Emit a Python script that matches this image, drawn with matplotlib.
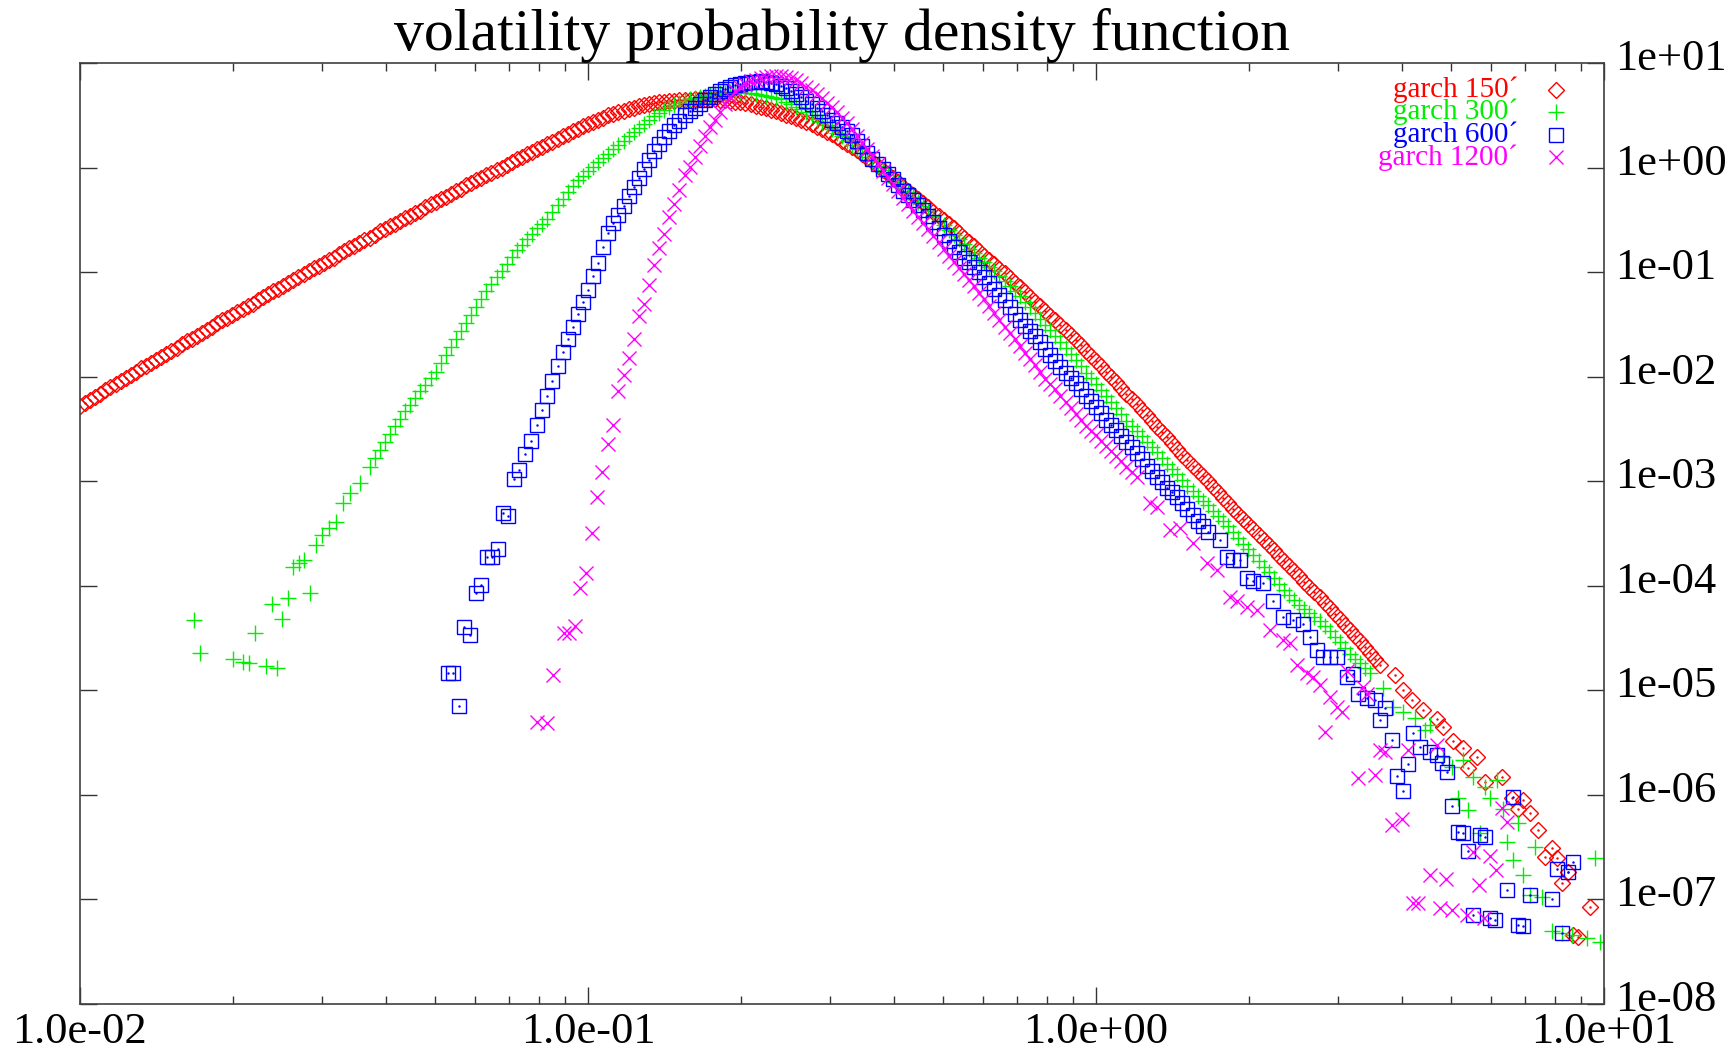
import numpy as np
import matplotlib.pyplot as plt
import matplotlib.transforms as mtransforms
from matplotlib.ticker import LogLocator, NullFormatter

plt.rcParams['font.family'] = ['Liberation Serif', 'DejaVu Serif']

title = "volatility probability density function"
series_labels = ["garch 150\u00b4", "garch 300\u00b4", "garch 600\u00b4", "garch 1200\u00b4"]
x_tick_values = [1e-2, 1e-1, 1e0, 1e1]
x_tick_labels = ["1.0e-02", "1.0e-01", "1.0e+00", "1.0e+01"]
y_tick_values = [1e1, 1e0, 1e-1, 1e-2, 1e-3, 1e-4, 1e-5, 1e-6, 1e-7, 1e-8]
y_tick_labels = ["1e+01", "1e+00", "1e-01", "1e-02", "1e-03", "1e-04",
                 "1e-05", "1e-06", "1e-07", "1e-08"]

# points as (log10 x, log10 y)
red_points = [
    (-2.00, -2.28), (-1.99, -2.25), (-1.98, -2.22), (-1.97, -2.19), (-1.96, -2.16),
    (-1.95, -2.13), (-1.94, -2.10), (-1.93, -2.07), (-1.92, -2.04), (-1.91, -2.01),
    (-1.90, -1.98), (-1.89, -1.95), (-1.88, -1.92), (-1.87, -1.90), (-1.86, -1.87),
    (-1.85, -1.84), (-1.84, -1.81), (-1.83, -1.78), (-1.82, -1.75), (-1.81, -1.72),
    (-1.80, -1.69), (-1.79, -1.66), (-1.78, -1.64), (-1.77, -1.61), (-1.76, -1.58),
    (-1.75, -1.55), (-1.74, -1.52), (-1.73, -1.49), (-1.72, -1.46), (-1.71, -1.44),
    (-1.70, -1.41), (-1.69, -1.38), (-1.68, -1.35), (-1.67, -1.32), (-1.66, -1.30),
    (-1.65, -1.27), (-1.64, -1.24), (-1.63, -1.21), (-1.62, -1.18), (-1.61, -1.16),
    (-1.60, -1.13), (-1.59, -1.10), (-1.58, -1.07), (-1.57, -1.05), (-1.56, -1.02),
    (-1.55, -0.99), (-1.54, -0.96), (-1.53, -0.94), (-1.52, -0.91), (-1.51, -0.88),
    (-1.50, -0.86), (-1.49, -0.83), (-1.48, -0.80), (-1.47, -0.77), (-1.46, -0.75),
    (-1.45, -0.72), (-1.44, -0.69), (-1.43, -0.67), (-1.42, -0.64), (-1.41, -0.61),
    (-1.40, -0.59), (-1.39, -0.56), (-1.38, -0.54), (-1.37, -0.51), (-1.36, -0.48),
    (-1.35, -0.46), (-1.34, -0.43), (-1.33, -0.41), (-1.32, -0.38), (-1.31, -0.35),
    (-1.30, -0.33), (-1.29, -0.30), (-1.28, -0.28), (-1.27, -0.25), (-1.26, -0.22),
    (-1.25, -0.20), (-1.24, -0.17), (-1.23, -0.15), (-1.22, -0.12), (-1.21, -0.10),
    (-1.20, -0.07), (-1.19, -0.05), (-1.18, -0.02), (-1.17, 0.00), (-1.16, 0.03),
    (-1.15, 0.05), (-1.14, 0.08), (-1.13, 0.10), (-1.12, 0.13), (-1.11, 0.15),
    (-1.10, 0.18), (-1.09, 0.20), (-1.08, 0.23), (-1.07, 0.25), (-1.06, 0.27),
    (-1.05, 0.30), (-1.04, 0.32), (-1.03, 0.35), (-1.02, 0.37), (-1.01, 0.40),
    (-1.00, 0.42), (-0.99, 0.44), (-0.98, 0.46), (-0.97, 0.48), (-0.96, 0.50),
    (-0.95, 0.515), (-0.94, 0.53), (-0.93, 0.545), (-0.92, 0.56), (-0.91, 0.575),
    (-0.90, 0.59), (-0.89, 0.60), (-0.88, 0.61), (-0.87, 0.62), (-0.86, 0.625),
    (-0.85, 0.633), (-0.84, 0.64), (-0.83, 0.643), (-0.82, 0.645), (-0.81, 0.648),
    (-0.80, 0.65), (-0.79, 0.653), (-0.78, 0.655), (-0.77, 0.655), (-0.76, 0.655),
    (-0.75, 0.653), (-0.74, 0.65), (-0.73, 0.645), (-0.72, 0.64), (-0.71, 0.633),
    (-0.70, 0.625), (-0.69, 0.615), (-0.68, 0.605), (-0.67, 0.593), (-0.66, 0.58),
    (-0.65, 0.568), (-0.64, 0.555), (-0.63, 0.54), (-0.62, 0.525), (-0.61, 0.508),
    (-0.60, 0.49), (-0.59, 0.473), (-0.58, 0.455), (-0.57, 0.435), (-0.56, 0.415),
    (-0.55, 0.393), (-0.54, 0.37), (-0.53, 0.345), (-0.52, 0.32), (-0.51, 0.29),
    (-0.50, 0.26), (-0.49, 0.23), (-0.48, 0.20), (-0.47, 0.165), (-0.46, 0.13),
    (-0.45, 0.095), (-0.44, 0.06), (-0.43, 0.02), (-0.42, -0.02), (-0.41, -0.06),
    (-0.40, -0.10), (-0.39, -0.14), (-0.38, -0.18), (-0.37, -0.22), (-0.36, -0.26),
    (-0.35, -0.30), (-0.34, -0.34), (-0.33, -0.38), (-0.32, -0.42), (-0.31, -0.46),
    (-0.30, -0.50), (-0.29, -0.54), (-0.28, -0.58), (-0.27, -0.625), (-0.26, -0.67),
    (-0.25, -0.71), (-0.24, -0.75), (-0.23, -0.795), (-0.22, -0.84), (-0.21, -0.88),
    (-0.20, -0.92), (-0.19, -0.965), (-0.18, -1.01), (-0.17, -1.055), (-0.16, -1.10),
    (-0.15, -1.145), (-0.14, -1.19), (-0.13, -1.235), (-0.12, -1.28), (-0.11, -1.325),
    (-0.10, -1.37), (-0.09, -1.415), (-0.08, -1.46), (-0.07, -1.505), (-0.06, -1.55),
    (-0.05, -1.60), (-0.04, -1.65), (-0.03, -1.70), (-0.02, -1.75), (-0.01, -1.80),
    (0.00, -1.85), (0.01, -1.90), (0.02, -1.95), (0.03, -2.00), (0.04, -2.05),
    (0.05, -2.105), (0.06, -2.16), (0.07, -2.21), (0.08, -2.26), (0.09, -2.315),
    (0.10, -2.37), (0.11, -2.425), (0.12, -2.48), (0.13, -2.53), (0.14, -2.58),
    (0.15, -2.635), (0.16, -2.69), (0.17, -2.745), (0.18, -2.80), (0.19, -2.85),
    (0.20, -2.90), (0.21, -2.95), (0.22, -3.00), (0.23, -3.05), (0.24, -3.10),
    (0.25, -3.155), (0.26, -3.21), (0.27, -3.26), (0.28, -3.31), (0.29, -3.36),
    (0.30, -3.41), (0.31, -3.46), (0.32, -3.51), (0.33, -3.56), (0.34, -3.61),
    (0.35, -3.66), (0.36, -3.71), (0.37, -3.76), (0.38, -3.81), (0.39, -3.86),
    (0.40, -3.91), (0.41, -3.96), (0.42, -4.01), (0.43, -4.06), (0.44, -4.11),
    (0.45, -4.16), (0.46, -4.21), (0.47, -4.265), (0.48, -4.32), (0.49, -4.37),
    (0.50, -4.42), (0.51, -4.475), (0.52, -4.53), (0.53, -4.585), (0.54, -4.64),
    (0.55, -4.70), (0.56, -4.76),
    (0.589, -4.85), (0.604, -5.00), (0.622, -5.09), (0.644, -5.19), (0.671, -5.27),
    (0.683, -5.35), (0.703, -5.48), (0.722, -5.55), (0.750, -5.64), (0.732, -5.74),
    (0.766, -5.88), (0.799, -5.83), (0.819, -6.03), (0.841, -6.05), (0.831, -6.13),
    (0.854, -6.17), (0.870, -6.34), (0.898, -6.51), (0.884, -6.59), (0.907, -6.60),
    (0.917, -6.84), (0.929, -6.74), (0.972, -7.07), (0.939, -7.34), (0.949, -7.36),
]

green_points = [
    (-1.776, -4.33), (-1.764, -4.64), (-1.699, -4.70), (-1.679, -4.73), (-1.667, -4.74),
    (-1.634, -4.77), (-1.612, -4.79), (-1.656, -4.45), (-1.622, -4.17), (-1.602, -4.32),
    (-1.591, -4.12), (-1.547, -4.07), (-1.581, -3.82), (-1.569, -3.78), (-1.559, -3.75),
    (-1.535, -3.61), (-1.524, -3.51), (-1.510, -3.45), (-1.496, -3.39), (-1.482, -3.21),
    (-1.469, -3.11), (-1.449, -3.02), (-1.429, -2.86),
    (-1.42, -2.78), (-1.41, -2.70), (-1.40, -2.62), (-1.39, -2.545), (-1.38, -2.47),
    (-1.37, -2.40), (-1.36, -2.33), (-1.35, -2.265), (-1.34, -2.20), (-1.33, -2.14),
    (-1.32, -2.08), (-1.31, -2.015), (-1.30, -1.95), (-1.29, -1.87), (-1.28, -1.79),
    (-1.27, -1.715), (-1.26, -1.64), (-1.25, -1.565), (-1.24, -1.49), (-1.23, -1.41),
    (-1.22, -1.33), (-1.21, -1.255), (-1.20, -1.18), (-1.19, -1.115), (-1.18, -1.05),
    (-1.17, -0.985), (-1.16, -0.92), (-1.15, -0.855), (-1.14, -0.79), (-1.13, -0.735),
    (-1.12, -0.68), (-1.11, -0.63), (-1.10, -0.58), (-1.09, -0.535), (-1.08, -0.49),
    (-1.07, -0.425), (-1.06, -0.36), (-1.05, -0.295), (-1.04, -0.23), (-1.03, -0.175),
    (-1.02, -0.12), (-1.01, -0.075), (-1.00, -0.03), (-0.99, 0.01), (-0.98, 0.05),
    (-0.97, 0.09), (-0.96, 0.13), (-0.95, 0.175), (-0.94, 0.22), (-0.93, 0.26),
    (-0.92, 0.30), (-0.91, 0.34), (-0.90, 0.38), (-0.89, 0.42), (-0.88, 0.46),
    (-0.87, 0.49), (-0.86, 0.52), (-0.85, 0.55), (-0.84, 0.58), (-0.83, 0.60),
    (-0.82, 0.62), (-0.81, 0.638), (-0.80, 0.655), (-0.79, 0.668), (-0.78, 0.68),
    (-0.77, 0.69), (-0.76, 0.70), (-0.75, 0.708), (-0.74, 0.715), (-0.73, 0.718),
    (-0.72, 0.72), (-0.71, 0.72), (-0.70, 0.72), (-0.69, 0.718), (-0.68, 0.715),
    (-0.67, 0.708), (-0.66, 0.70), (-0.65, 0.69), (-0.64, 0.68), (-0.63, 0.668),
    (-0.62, 0.655), (-0.61, 0.633), (-0.60, 0.61), (-0.59, 0.585), (-0.58, 0.56),
    (-0.57, 0.53), (-0.56, 0.50), (-0.55, 0.47), (-0.54, 0.44), (-0.53, 0.405),
    (-0.52, 0.37), (-0.51, 0.335), (-0.50, 0.30), (-0.49, 0.26), (-0.48, 0.22),
    (-0.47, 0.18), (-0.46, 0.14), (-0.45, 0.10), (-0.44, 0.06), (-0.43, 0.02),
    (-0.42, -0.02), (-0.41, -0.065), (-0.40, -0.11), (-0.39, -0.15), (-0.38, -0.19),
    (-0.37, -0.235), (-0.36, -0.28), (-0.35, -0.325), (-0.34, -0.37), (-0.33, -0.415),
    (-0.32, -0.46), (-0.31, -0.505), (-0.30, -0.55), (-0.29, -0.595), (-0.28, -0.64),
    (-0.27, -0.685), (-0.26, -0.73), (-0.25, -0.775), (-0.24, -0.82), (-0.23, -0.86),
    (-0.22, -0.90), (-0.21, -0.945), (-0.20, -0.99), (-0.19, -1.035), (-0.18, -1.08),
    (-0.17, -1.13), (-0.16, -1.18), (-0.15, -1.23), (-0.14, -1.28), (-0.13, -1.335),
    (-0.12, -1.39), (-0.11, -1.445), (-0.10, -1.50), (-0.09, -1.555), (-0.08, -1.61),
    (-0.07, -1.665), (-0.06, -1.72), (-0.05, -1.78), (-0.04, -1.84), (-0.03, -1.90),
    (-0.02, -1.96), (-0.01, -2.015), (0.00, -2.07), (0.01, -2.125), (0.02, -2.18),
    (0.03, -2.24), (0.04, -2.30), (0.05, -2.36), (0.06, -2.42), (0.07, -2.47),
    (0.08, -2.52), (0.09, -2.57), (0.10, -2.62), (0.11, -2.67), (0.12, -2.72),
    (0.13, -2.775), (0.14, -2.83), (0.15, -2.88), (0.16, -2.93), (0.17, -2.985),
    (0.18, -3.04), (0.19, -3.09), (0.20, -3.14), (0.21, -3.185), (0.22, -3.23),
    (0.23, -3.28), (0.24, -3.33), (0.25, -3.38), (0.26, -3.43), (0.27, -3.485),
    (0.28, -3.54), (0.29, -3.595), (0.30, -3.65), (0.31, -3.705), (0.32, -3.76),
    (0.33, -3.815), (0.34, -3.87), (0.35, -3.925), (0.36, -3.98), (0.37, -4.035),
    (0.38, -4.09), (0.39, -4.135), (0.40, -4.18), (0.41, -4.22), (0.42, -4.26),
    (0.43, -4.30), (0.44, -4.34), (0.45, -4.385), (0.46, -4.43), (0.47, -4.485),
    (0.48, -4.54), (0.49, -4.595), (0.50, -4.65), (0.51, -4.695), (0.52, -4.74),
    (0.53, -4.785), (0.54, -4.83),
    (0.565, -4.98), (0.585, -5.16), (0.604, -5.21), (0.628, -5.26), (0.648, -5.38),
    (0.657, -5.33), (0.683, -5.64), (0.701, -5.73), (0.722, -5.67), (0.742, -5.83),
    (0.766, -5.92), (0.776, -6.03), (0.789, -5.86), (0.713, -6.03), (0.732, -6.14),
    (0.801, -6.13), (0.831, -6.27), (0.756, -6.36), (0.809, -6.45), (0.864, -6.50),
    (0.821, -6.62), (0.841, -6.77), (0.854, -6.96), (0.878, -6.98), (0.982, -6.60),
    (0.898, -7.30), (0.917, -7.32), (0.937, -7.34), (0.967, -7.37), (0.992, -7.41),
]

blue_points = [
    (-1.276, -4.83), (-1.266, -4.83), (-1.254, -5.15), (-1.244, -4.39), (-1.232, -4.47),
    (-1.220, -4.07), (-1.211, -3.99), (-1.199, -3.72), (-1.189, -3.72), (-1.177, -3.65),
    (-1.167, -3.30), (-1.157, -3.33), (-1.146, -2.98), (-1.136, -2.89), (-1.124, -2.74),
    (-1.112, -2.61),
    (-1.10, -2.46), (-1.09, -2.32), (-1.08, -2.18), (-1.07, -2.04), (-1.06, -1.90),
    (-1.05, -1.76), (-1.04, -1.64), (-1.03, -1.52), (-1.02, -1.40), (-1.01, -1.28),
    (-1.00, -1.17), (-0.99, -1.04), (-0.98, -0.91), (-0.97, -0.76), (-0.96, -0.62),
    (-0.95, -0.53), (-0.94, -0.45), (-0.93, -0.37), (-0.92, -0.27), (-0.91, -0.18),
    (-0.90, -0.10), (-0.89, -0.01), (-0.88, 0.07), (-0.87, 0.16), (-0.86, 0.23),
    (-0.85, 0.29), (-0.84, 0.35), (-0.83, 0.41), (-0.82, 0.45), (-0.81, 0.50),
    (-0.80, 0.54), (-0.79, 0.575), (-0.78, 0.61), (-0.77, 0.645), (-0.76, 0.68),
    (-0.75, 0.708), (-0.74, 0.735), (-0.73, 0.755), (-0.72, 0.775), (-0.71, 0.79),
    (-0.70, 0.805), (-0.69, 0.813), (-0.68, 0.82), (-0.67, 0.823), (-0.66, 0.825),
    (-0.65, 0.82), (-0.64, 0.815), (-0.63, 0.80), (-0.62, 0.785), (-0.61, 0.758),
    (-0.60, 0.73), (-0.59, 0.703), (-0.58, 0.675), (-0.57, 0.643), (-0.56, 0.61),
    (-0.55, 0.575), (-0.54, 0.54), (-0.53, 0.50), (-0.52, 0.46), (-0.51, 0.425),
    (-0.50, 0.39), (-0.49, 0.35), (-0.48, 0.31), (-0.47, 0.26), (-0.46, 0.21),
    (-0.45, 0.145), (-0.44, 0.08), (-0.43, 0.035), (-0.42, -0.01), (-0.41, -0.06),
    (-0.40, -0.11), (-0.39, -0.165), (-0.38, -0.22), (-0.37, -0.265), (-0.36, -0.31),
    (-0.35, -0.355), (-0.34, -0.40), (-0.33, -0.46), (-0.32, -0.52), (-0.31, -0.58),
    (-0.30, -0.64), (-0.29, -0.70), (-0.28, -0.76), (-0.27, -0.81), (-0.26, -0.86),
    (-0.25, -0.905), (-0.24, -0.95), (-0.23, -1.00), (-0.22, -1.05), (-0.21, -1.105),
    (-0.20, -1.16), (-0.19, -1.215), (-0.18, -1.27), (-0.17, -1.335), (-0.16, -1.40),
    (-0.15, -1.455), (-0.14, -1.51), (-0.13, -1.56), (-0.12, -1.61), (-0.11, -1.67),
    (-0.10, -1.73), (-0.09, -1.79), (-0.08, -1.85), (-0.07, -1.905), (-0.06, -1.96),
    (-0.05, -2.01), (-0.04, -2.06), (-0.03, -2.12), (-0.02, -2.18), (-0.01, -2.235),
    (0.00, -2.29), (0.01, -2.35), (0.02, -2.41), (0.03, -2.46), (0.04, -2.51),
    (0.05, -2.565), (0.06, -2.62), (0.07, -2.675), (0.08, -2.73), (0.09, -2.79),
    (0.10, -2.85), (0.11, -2.905), (0.12, -2.96), (0.13, -3.01), (0.14, -3.06),
    (0.15, -3.105), (0.16, -3.15), (0.17, -3.205), (0.18, -3.26), (0.19, -3.32),
    (0.20, -3.38), (0.21, -3.43), (0.22, -3.48),
    (0.244, -3.56), (0.258, -3.72), (0.270, -3.75), (0.283, -3.75), (0.297, -3.92),
    (0.309, -3.95), (0.329, -3.97), (0.348, -4.14), (0.368, -4.30), (0.388, -4.33),
    (0.407, -4.36), (0.421, -4.49), (0.435, -4.61), (0.447, -4.68), (0.461, -4.68),
    (0.474, -4.68), (0.494, -4.87), (0.506, -4.84), (0.516, -5.03), (0.533, -5.07),
    (0.549, -5.09), (0.569, -5.17), (0.559, -5.28), (0.583, -5.47), (0.624, -5.41),
    (0.638, -5.54), (0.657, -5.59), (0.671, -5.62), (0.681, -5.69), (0.691, -5.78),
    (0.614, -5.70), (0.593, -5.82), (0.604, -5.96), (0.701, -6.11), (0.821, -6.02),
    (0.713, -6.35), (0.722, -6.36), (0.756, -6.38), (0.766, -6.40), (0.732, -6.54),
    (0.907, -6.71), (0.929, -6.74), (0.939, -6.64), (0.809, -6.91), (0.854, -6.96),
    (0.898, -7.00), (0.742, -7.15), (0.776, -7.18), (0.785, -7.20), (0.831, -7.24),
    (0.841, -7.25), (0.917, -7.32),
]

magenta_points = [
    (-1.100, -5.30), (-1.081, -5.31), (-1.069, -4.85), (-1.047, -4.45), (-1.037, -4.45),
    (-1.026, -4.38), (-1.016, -4.02), (-1.004, -3.88), (-0.992, -3.49), (-0.982, -3.15),
    (-0.972, -2.91), (-0.961, -2.64), (-0.951, -2.46),
    (-0.94, -2.14), (-0.93, -1.98), (-0.92, -1.82), (-0.91, -1.64), (-0.90, -1.42),
    (-0.89, -1.30), (-0.88, -1.12), (-0.87, -0.93), (-0.86, -0.77), (-0.85, -0.63),
    (-0.84, -0.47), (-0.83, -0.35), (-0.82, -0.21), (-0.81, -0.07), (-0.80, 0.01),
    (-0.79, 0.10), (-0.78, 0.21), (-0.77, 0.30), (-0.76, 0.39), (-0.75, 0.46),
    (-0.74, 0.53), (-0.73, 0.61), (-0.72, 0.675), (-0.71, 0.73), (-0.70, 0.775),
    (-0.69, 0.805), (-0.68, 0.83), (-0.67, 0.843), (-0.66, 0.855), (-0.65, 0.865),
    (-0.64, 0.875), (-0.63, 0.878), (-0.62, 0.88), (-0.61, 0.87), (-0.60, 0.86),
    (-0.59, 0.835), (-0.58, 0.81), (-0.57, 0.775), (-0.56, 0.74), (-0.55, 0.703),
    (-0.54, 0.665), (-0.53, 0.623), (-0.52, 0.58), (-0.51, 0.53), (-0.50, 0.48),
    (-0.49, 0.425), (-0.48, 0.37), (-0.47, 0.305), (-0.46, 0.24), (-0.45, 0.175),
    (-0.44, 0.11), (-0.43, 0.04), (-0.42, -0.03), (-0.41, -0.095), (-0.40, -0.16),
    (-0.39, -0.225), (-0.38, -0.29), (-0.37, -0.35), (-0.36, -0.41), (-0.35, -0.47),
    (-0.34, -0.53), (-0.33, -0.59), (-0.32, -0.65), (-0.31, -0.715), (-0.30, -0.78),
    (-0.29, -0.84), (-0.28, -0.90), (-0.27, -0.96), (-0.26, -1.02), (-0.25, -1.075),
    (-0.24, -1.13), (-0.23, -1.195), (-0.22, -1.26), (-0.21, -1.325), (-0.20, -1.39),
    (-0.19, -1.455), (-0.18, -1.52), (-0.17, -1.58), (-0.16, -1.64), (-0.15, -1.705),
    (-0.14, -1.77), (-0.13, -1.83), (-0.12, -1.89), (-0.11, -1.955), (-0.10, -2.02),
    (-0.09, -2.07), (-0.08, -2.12), (-0.07, -2.18), (-0.06, -2.24), (-0.05, -2.30),
    (-0.04, -2.36), (-0.03, -2.415), (-0.02, -2.47), (-0.01, -2.515), (0.00, -2.56),
    (0.01, -2.61), (0.02, -2.66), (0.03, -2.71), (0.04, -2.76), (0.05, -2.81),
    (0.06, -2.86), (0.07, -2.91), (0.08, -2.96),
    (0.106, -3.21), (0.120, -3.25), (0.146, -3.47), (0.165, -3.45), (0.191, -3.59),
    (0.218, -3.78), (0.238, -3.85), (0.264, -4.11), (0.278, -4.14), (0.297, -4.20),
    (0.317, -4.23), (0.343, -4.42), (0.368, -4.52), (0.382, -4.55), (0.396, -4.76),
    (0.415, -4.83), (0.427, -4.87), (0.441, -4.95), (0.461, -5.06), (0.474, -5.16),
    (0.484, -5.21), (0.451, -5.40), (0.494, -4.81), (0.526, -4.97), (0.533, -5.03),
    (0.559, -5.57), (0.569, -5.59), (0.614, -5.57), (0.671, -5.52), (0.516, -5.84),
    (0.549, -5.81), (0.583, -6.29), (0.602, -6.23), (0.799, -6.12), (0.809, -6.26),
    (0.742, -6.55), (0.776, -6.58), (0.787, -6.72), (0.657, -6.77), (0.689, -6.80),
    (0.754, -6.86), (0.624, -7.03), (0.634, -7.03), (0.677, -7.08), (0.701, -7.10),
    (0.730, -7.15), (0.764, -7.18),
]

all_series = [red_points, green_points, blue_points, magenta_points]
markers = ['D', '+', 's', 'x']
colors = ['#ff0000', '#00ee00', '#0000ff', '#ff00ff']
sizes = [8.5, 11, 9.5, 10]

fig = plt.figure(figsize=(17.35, 10.53), dpi=100)
ax = fig.add_axes([0.0461, 0.0465, 0.8784, 0.8935])

for pts, m, c, s in zip(all_series, markers, colors, sizes):
    x = 10 ** np.array([p[0] for p in pts])
    y = 10 ** np.array([p[1] for p in pts])
    ax.plot(x, y, ls='none', marker=m, ms=s, mfc='none', mec=c, mew=1.0)
    if m in ('D', 's'):
        ax.plot(x, y, ls='none', marker='.', ms=1.5, color=c)

ax.set_xscale('log')
ax.set_yscale('log')
ax.set_xlim(1e-2, 1e1)
ax.set_ylim(1e-8, 1e1)

ax.set_xticks(x_tick_values, x_tick_labels)
ax.set_yticks(y_tick_values, y_tick_labels)
ax.xaxis.set_minor_locator(LogLocator(base=10, subs=np.arange(2, 10)))
ax.yaxis.set_minor_locator(LogLocator(base=10, subs=np.arange(2, 10)))
ax.xaxis.set_minor_formatter(NullFormatter())
ax.yaxis.set_minor_formatter(NullFormatter())

ax.tick_params(which='both', direction='in', top=True, bottom=True,
               left=True, right=True, labelleft=False, labelright=True,
               color='#333333', width=1.0)
ax.tick_params(which='major', length=12)
ax.tick_params(which='minor', length=6)
ax.tick_params(axis='x', labelsize=32, pad=6)
ax.tick_params(axis='y', labelsize=32, pad=8)

# y labels sit with their baseline a little under the tick
shift = mtransforms.ScaledTranslation(0, -7 / 100, fig.dpi_scale_trans)
for tk in ax.yaxis.get_major_ticks():
    tk.label2.set_verticalalignment('baseline')
    tk.label2.set_transform(tk.label2.get_transform() + shift)

for sp in ax.spines.values():
    sp.set_color('#404040')
    sp.set_linewidth(1.2)

ax.set_title(title, fontsize=43, pad=8)

# key in the upper right corner
key_rows = [0.9713, 0.948, 0.9235, 0.900]
for lab, m, c, s, ky in zip(series_labels, markers, colors, sizes, key_rows):
    ax.text(0.9436, ky, lab, transform=ax.transAxes, ha='right', va='center',
            color=c, fontsize=21)
    ax.plot([0.9685], [ky], transform=ax.transAxes, ls='none', marker=m, ms=s,
            mfc='none', mec=c, mew=1.0)

ax.set_xlim(1e-2, 1e1)
ax.set_ylim(1e-8, 1e1)

fig.savefig('out.png', dpi=100)
